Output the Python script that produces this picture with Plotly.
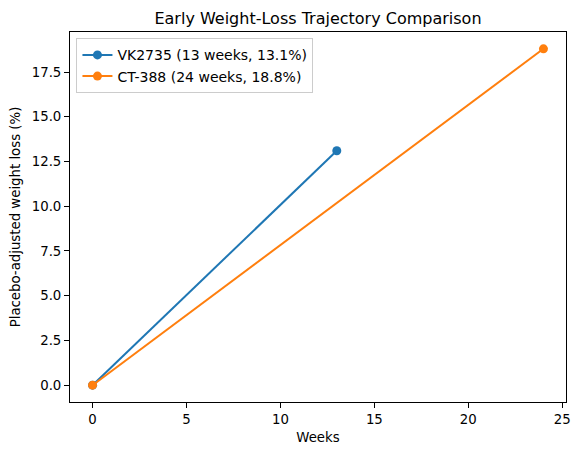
import plotly.graph_objects as go

# trajectory data
vk_weeks = [0, 13]
vk_loss = [0.0, 13.1]
ct_weeks = [0, 24]
ct_loss = [0.0, 18.8]

series_names = ["VK2735 (13 weeks, 13.1%)", "CT-388 (24 weeks, 18.8%)"]
colors = ["#1f77b4", "#ff7f0e"]

x_ticks = [0, 5, 10, 15, 20, 25]
y_ticks = [0.0, 2.5, 5.0, 7.5, 10.0, 12.5, 15.0, 17.5]

fig = go.Figure()
for wk, loss, name, col in zip([vk_weeks, ct_weeks], [vk_loss, ct_loss], series_names, colors):
    fig.add_trace(go.Scatter(
        x=wk, y=loss, name=name, mode="lines+markers",
        line=dict(color=col, width=2),
        marker=dict(color=col, size=9),
    ))

axis_style = dict(
    showgrid=False, zeroline=False, showline=True, mirror=True,
    linecolor="black", linewidth=1, ticks="outside", ticklen=5,
    tickcolor="black", tickfont=dict(size=13.3, color="black"),
    automargin=False,
)

fig.update_layout(
    width=581, height=455, autosize=False,
    margin=dict(l=70, r=15, t=32, b=53),
    paper_bgcolor="white", plot_bgcolor="white",
    font=dict(family="DejaVu Sans", size=13.3, color="black"),
    title=dict(text="Early Weight-Loss Trajectory Comparison",
               x=0.5, xref="paper", xanchor="center",
               y=1, yref="paper", yanchor="bottom", pad=dict(b=8),
               automargin=False,
               font=dict(size=16, color="black")),
    xaxis=dict(axis_style, range=[-1.2, 25.2], tickvals=x_ticks,
               title=dict(text="Weeks", standoff=6,
                          font=dict(size=13.3, color="black"))),
    yaxis=dict(axis_style, range=[-0.94, 19.74], tickvals=y_ticks,
               tickformat=".1f",
               title=dict(text="Placebo-adjusted weight loss (%)", standoff=8,
                          font=dict(size=13.3, color="black"))),
    legend=dict(x=0.013, y=0.983, xanchor="left", yanchor="top",
                bgcolor="rgba(255,255,255,0.8)", bordercolor="#cccccc",
                borderwidth=1, font=dict(size=14), itemwidth=30,
                tracegroupgap=2),
    showlegend=True,
)

# drop the default 8px page margin so the figure sits at the window corner
fig.write_html("out.html", config={"displayModeBar": False},
               post_script="document.body.style.margin='0';")
